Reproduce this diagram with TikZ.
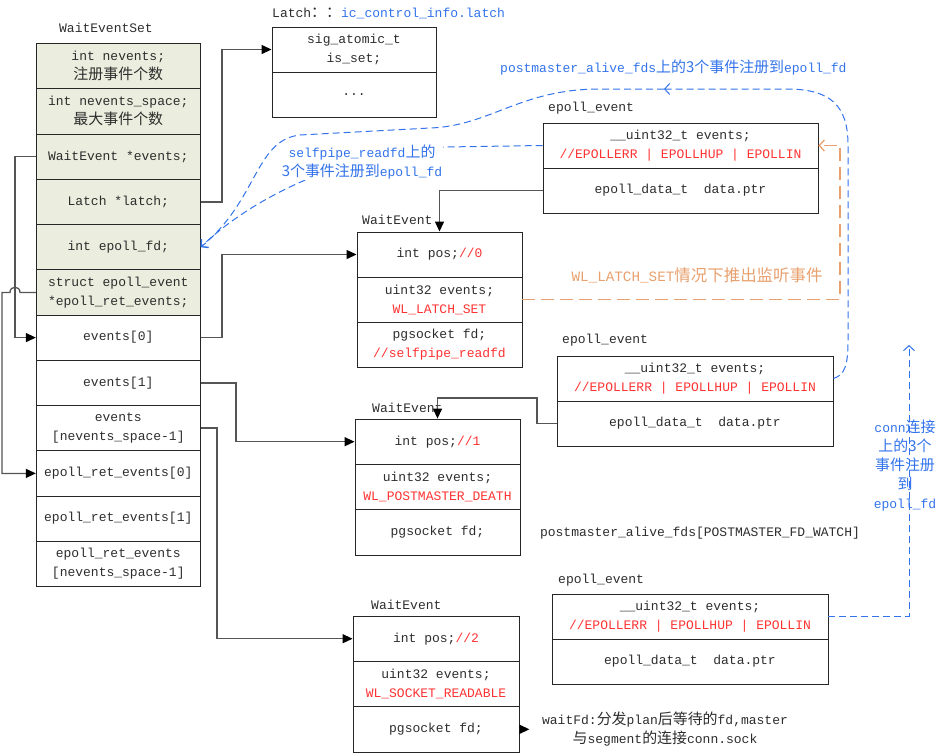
\documentclass[tikz,border=0pt]{standalone}
\usepackage{fontspec}
\setmainfont{Liberation Mono}
\newfontfamily\cjkfont[Scale=1.15]{Noto Sans CJK SC}
\newcommand\zh[1]{{\cjkfont #1}}
\usetikzlibrary{arrows.meta}
\definecolor{cfill}{RGB}{235,238,222}
\definecolor{cred}{RGB}{255,50,50}
\definecolor{cblue}{RGB}{50,115,235}
\definecolor{corange}{RGB}{232,160,110}
\definecolor{ctext}{RGB}{45,45,45}
\definecolor{cline}{RGB}{85,85,85}
\tikzset{
  cell/.style={draw=black!85, line width=0.9pt, inner sep=0pt, align=center, text=ctext},
  lcell/.style={cell, minimum width=164, minimum height=45.25},
  lbl/.style={inner sep=0pt, text=ctext, align=center},
  conn/.style={draw=cline, line width=1.3pt, -{Triangle[length=10pt,width=9pt,color=black]}},
  bd/.style={draw=cblue, line width=1pt, dash pattern=on 7pt off 4pt, -{Straight Barb[length=5pt,width=11pt]}},
  od/.style={draw=corange, line width=1.3pt, dash pattern=on 13pt off 6pt, -{Straight Barb[length=5pt,width=11pt]}},
}
\begin{document}
\begin{tikzpicture}[x=1pt,y=-1pt,font=\fontsize{13}{19}\selectfont]
\useasboundingbox (0,0) rectangle (937,753);
% WaitEventSet column
\node[lbl] (lset) at (106,28) {WaitEventSet};
\node[lcell,fill=cfill] (s1) at (118.3,66.1) {int nevents;\\\zh{注册事件个数}};
\node[lcell,fill=cfill] (s2) at (118.3,111.4) {int nevents\_space;\\\zh{最大事件个数}};
\node[lcell,fill=cfill] (s3) at (118.3,156.6) {WaitEvent *events;};
\node[lcell,fill=cfill] (s4) at (118.3,201.9) {Latch *latch;};
\node[lcell,fill=cfill] (s5) at (118.3,247.1) {int epoll\_fd;};
\node[lcell,fill=cfill] (s6) at (118.3,292.4) {struct epoll\_event\\{}*epoll\_ret\_events;};
\node[lcell] (s7) at (118.3,337.6) {events[0]};
\node[lcell] (s8) at (118.3,382.9) {events[1]};
\node[lcell] (s9) at (118.3,428.1) {events\\{}[nevents\_space-1]};
\node[lcell] (s10) at (118.3,473.4) {epoll\_ret\_events[0]};
\node[lcell] (s11) at (118.3,518.6) {epoll\_ret\_events[1]};
\node[lcell] (s12) at (118.3,563.9) {epoll\_ret\_events\\{}[nevents\_space-1]};
% Latch
\node[lbl,anchor=west] (llatch) at (272,13) {Latch\zh{：：}\textcolor{cblue}{ ic\_control\_info.latch}};
\node[cell,minimum width=164,minimum height=45] (lt1) at (354,49.5) {sig\_atomic\_t\\is\_set;};
\node[cell,minimum width=164,minimum height=45] (lt2) at (354,94.5) {...};
% epoll_event 1
\node[lbl,anchor=west] (le1) at (548,108) {epoll\_event};
\node[cell,minimum width=275,minimum height=45] (e1a) at (680.5,145.5) {\_\_uint32\_t events;\\\textcolor{cred}{//EPOLLERR | EPOLLHUP | EPOLLIN}};
\node[cell,minimum width=275,minimum height=45] (e1b) at (680.5,190.5) {epoll\_data\_t\ \ data.ptr};
% WaitEvent 1
\node[lbl,anchor=west] (la) at (362,220) {WaitEvent};
\node[cell,minimum width=165,minimum height=45] (a1) at (439.5,254.5) {int pos;\textcolor{cred}{//0}};
\node[cell,minimum width=165,minimum height=45] (a2) at (439.5,299.5) {uint32 events;\\\textcolor{cred}{WL\_LATCH\_SET}};
\node[cell,minimum width=165,minimum height=45] (a3) at (439.5,344.5) {pgsocket fd;\\\textcolor{cred}{//selfpipe\_readfd}};
% epoll_event 2
\node[lbl,anchor=west] (le2) at (562,340) {epoll\_event};
\node[cell,minimum width=276,minimum height=45] (e2a) at (695,378.5) {\_\_uint32\_t events;\\\textcolor{cred}{//EPOLLERR | EPOLLHUP | EPOLLIN}};
\node[cell,minimum width=276,minimum height=45] (e2b) at (695,423.5) {epoll\_data\_t\ \ data.ptr};
% WaitEvent 2
\node[lbl,anchor=west] (lb) at (372,408) {WaitEvent};
\node[cell,minimum width=165,minimum height=45.33] (b1) at (437.5,441.7) {int pos;\textcolor{cred}{//1}};
\node[cell,minimum width=165,minimum height=45.33] (b2) at (437.5,487) {uint32 events;\\\textcolor{cred}{WL\_POSTMASTER\_DEATH}};
\node[cell,minimum width=165,minimum height=45.33] (b3) at (437.5,532.3) {pgsocket fd;};
\node[lbl] (lpm) at (700,533) {postmaster\_alive\_fds[POSTMASTER\_FD\_WATCH]};
% epoll_event 3
\node[lbl,anchor=west] (le3) at (558,580) {epoll\_event};
\node[cell,minimum width=276,minimum height=45] (e3a) at (690,616.5) {\_\_uint32\_t events;\\\textcolor{cred}{//EPOLLERR | EPOLLHUP | EPOLLIN}};
\node[cell,minimum width=276,minimum height=45] (e3b) at (690,661.5) {epoll\_data\_t\ \ data.ptr};
% WaitEvent 3
\node[lbl,anchor=west] (lc) at (371,605) {WaitEvent};
\node[cell,minimum width=166,minimum height=45.33] (c1) at (436,638.7) {int pos;\textcolor{cred}{//2}};
\node[cell,minimum width=166,minimum height=45.33] (c2) at (436,684) {uint32 events;\\\textcolor{cred}{WL\_SOCKET\_READABLE}};
\node[cell,minimum width=166,minimum height=45.33] (c3) at (436,729.3) {pgsocket fd;};
\node[lbl] (lwait) at (665,729) {waitFd:\zh{分发}plan\zh{后等待的}fd,master\\\zh{与}segment\zh{的连接}conn.sock};
% guides
\coordinate (g1) at (222,0);
\coordinate (g2) at (236,0);
\coordinate (g3) at (217,0);
\coordinate (g4) at (15,0);
\coordinate (g6) at (2,0);
\coordinate (g9) at (664,89);
\coordinate (g10) at (840,0);
\coordinate (g11) at (909,345);
% solid connectors
\draw[conn] (s4.east) -- (g1 |- s4.east) |- (lt1.west);
\draw[conn] (s7.east) -- (g1 |- s7.east) |- (a1.west);
\draw[conn] (s8.east) -- (g2 |- s8.east) |- (b1.west);
\draw[conn] (s9.east) -- (g3 |- s9.east) |- (c1.west);
\draw[conn] (s3.west) -- (g4 |- s3.west) |- (s7.west);
\draw[conn] (s6.west) -- (20,292.4) .. controls (20,285.5) and (10,285.5) .. (10,292.4) -- (g6 |- s6.west) |- (s10.west);
\draw[conn] (e1b.west) -| (a1.north);
\draw[conn] (e2b.west) -| (537,398) -| (b1.north);
\draw[conn] (c3.east) -- ++(10,0);
% dashed
\draw[bd] (e1a.west) -- (445,147) .. controls (360,150) and (260,190) .. (s5.east);
\node[lbl,fill=white,text=cblue,inner sep=1pt] (lself) at (362,162) {selfpipe\_readfd\zh{上的}\\\zh{3个事件注册到}epoll\_fd};
\draw[bd] (e2a.east) .. controls (845,375) and (848,365) .. (848,340) -- (848,145) .. controls (848,105) and (830,90) .. (790,89) -- (g9);
\draw[bd] (g9) -- (600,89) .. controls (520,89) and (490,126) .. (430,128) -- (300,135) .. controls (255,140) and (258,200) .. (s5.east);
\node[lbl,anchor=west,text=cblue] (lpost) at (500,68) {postmaster\_alive\_fds\zh{上的3个事件注册到}epoll\_fd};
\draw[od] (a2.east) -| (g10 |- e1a.east) -- (e1a.east);
\node[lbl,text=corange,font=\fontsize{14.3}{19}\selectfont] (lorange) at (697,275) {WL\_LATCH\_SET\zh{情况下推出监听事件}};
\draw[bd] (e3a.east) -| (g11);
\node[lbl,text=cblue] (lconn) at (905,466) {conn\zh{连接}\\\zh{上的3个}\\\zh{事件注册}\\\zh{到}\\epoll\_fd};
\end{tikzpicture}
\end{document}
